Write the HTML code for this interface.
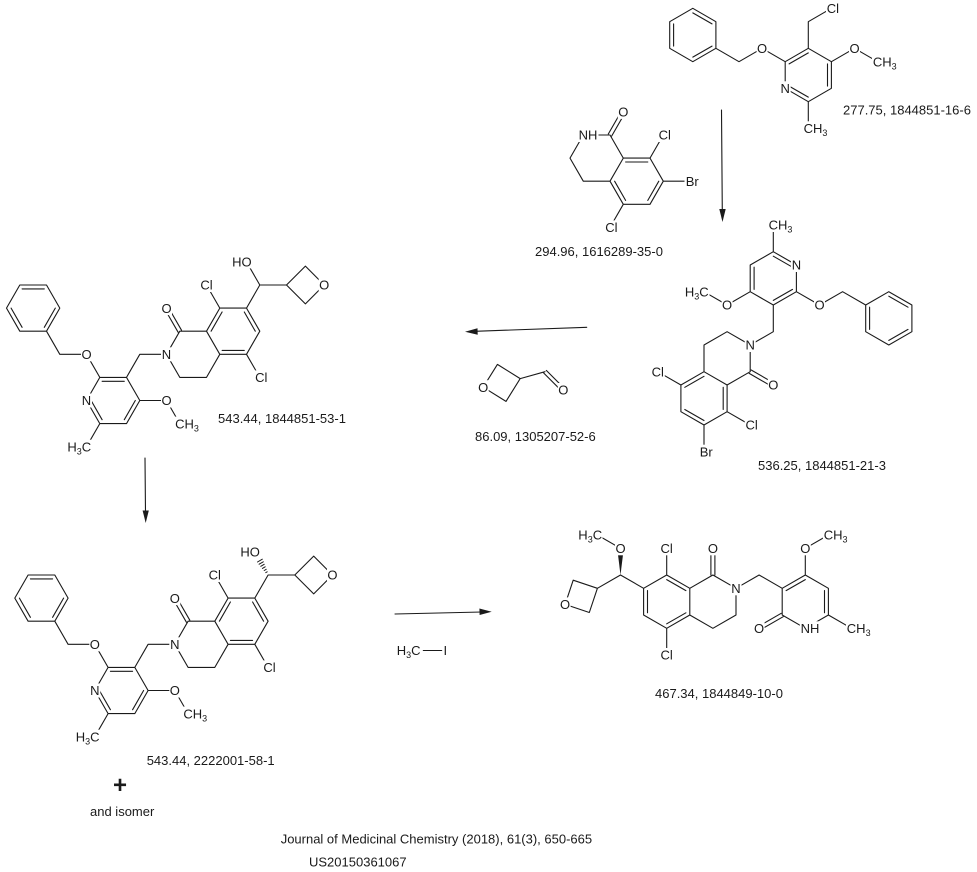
<!DOCTYPE html>
<html><head><meta charset="utf-8"><style>
html,body{margin:0;padding:0;background:#fff;}
svg{display:block;}
text{font-family:"Liberation Sans",Arial,sans-serif;font-size:13px;fill:#1a1a1a;}
.s{font-size:9px;}
.b{fill:none;stroke:#1a1a1a;stroke-width:1.1;stroke-linecap:round;stroke-linejoin:round;}
.w{fill:#fff;stroke:none;}
</style></head><body>
<svg width="977" height="872" viewBox="0 0 977 872" xmlns="http://www.w3.org/2000/svg">
<rect width="977" height="872" fill="#fff"/>

<!-- Molecule 1 -->
<path class="b" d="M692.8,8.3 L715.9,21.7 L715.9,48.3 L692.8,61.7 L669.7,48.3 L669.7,21.7 Z
M692.8,12.9 L712,23.9 M712,46.1 L692.8,57.1 M673.6,46.1 L673.6,23.9
M808.3,48.3 L831.4,61.7 L831.4,88.3 L808.3,101.7 L785.2,88.3 L785.2,61.7 Z
M827.5,63.9 L827.5,86.1 M808.3,97.1 L789.1,86.1 M789.1,63.9 L808.3,52.9
M808.3,48.3 L808.3,21.7 L831.4,8.3 M831.4,61.7 L854.5,48.3 L877.6,61.7 M808.3,101.7 L808.3,128.3
M785.2,61.7 L762.1,48.3 L739,61.7 L715.9,48.3"/>
<rect class="w" x="826" y="1.3" width="14" height="14"/><text x="826.7" y="13">Cl</text>
<rect class="w" x="849" y="41.3" width="11" height="14"/><text x="854.5" y="53" text-anchor="middle">O</text>
<rect class="w" x="872" y="54.7" width="25" height="14"/><text x="872.9" y="66.4">CH<tspan class="s" dy="3">3</tspan></text>
<rect class="w" x="779.7" y="81.3" width="11" height="14"/><text x="785.2" y="93" text-anchor="middle">N</text>
<rect class="w" x="802.8" y="121.3" width="25" height="14"/><text x="803.6" y="133">CH<tspan class="s" dy="3">3</tspan></text>
<rect class="w" x="756.6" y="41.3" width="11" height="14"/><text x="762.1" y="53" text-anchor="middle">O</text>
<text x="843" y="114.7">277.75, 1844851-16-6</text>

<!-- Arrow 1 down -->
<path class="b" d="M721.5,110 L722.3,212"/>
<polygon points="722.5,222 719.3,209 725.7,209" fill="#1a1a1a"/>

<!-- Molecule 2 -->
<path class="b" d="M583.3,135 L610,135 L623.3,158.1 L610,181.2 L583.3,181.2 L570,158.1 Z
M623.3,158.1 L650,158.1 L663.3,181.2 L650,204.3 L623.3,204.3 L610,181.2
M625.6,162 L647.8,162 M658.8,181.2 L647.8,200.4 M625.6,200.4 L614.6,181.2
M611.7,136 L625,112.9 M608.3,134 L621.6,110.9
M650,158.1 L663.3,135 M663.3,181.2 L690,181.2 M623.3,204.3 L610,227.4"/>
<rect class="w" x="577.5" y="128" width="21" height="14"/><text x="578.6" y="139.7">NH</text>
<rect class="w" x="617.8" y="104.9" width="11" height="14"/><text x="623.3" y="116.6" text-anchor="middle">O</text>
<rect class="w" x="657.8" y="128" width="14" height="14"/><text x="658.6" y="139.7">Cl</text>
<rect class="w" x="684.5" y="174.2" width="15" height="14"/><text x="685.7" y="185.9">Br</text>
<rect class="w" x="604.5" y="220.4" width="14" height="14"/><text x="605.3" y="232.1">Cl</text>
<text x="535" y="256">294.96, 1616289-35-0</text>

<!-- Molecule 3 -->
<path class="b" d="M773.3,251.7 L796.4,265 L796.4,291.7 L773.3,305 L750.2,291.7 L750.2,265 Z
M773.3,256.2 L792.5,267.2 M792.5,289.4 L773.3,300.4 M754.1,289.4 L754.1,267.2
M773.3,251.7 L773.3,225 M750.2,291.7 L727.1,305 L704,291.7 M773.3,305 L773.3,331.7 L750.2,345
M796.4,291.7 L819.5,305 L842.6,291.7 L865.7,305
M888.8,291.7 L911.9,305 L911.9,331.7 L888.8,345 L865.7,331.7 L865.7,305 Z
M888.8,296.2 L908,307.2 M908,329.4 L888.8,340.4 M869.6,329.4 L869.6,307.2
M750.2,345 L750.2,371.7 L727.1,385 L704,371.7 L704,345 L727.1,331.7 Z
M727.1,385 L727.1,411.7 L704,425 L680.9,411.7 L680.9,385 L704,371.7
M684.8,387.3 L704,376.3 M723.2,387.3 L723.2,409.5 M704,420.5 L684.8,409.5
M749.2,373.4 L772.3,386.7 M751.2,370 L774.3,383.3
M680.9,385 L657.8,371.7 M727.1,411.7 L750.2,425 M704,425 L704,451.7"/>
<rect class="w" x="767.8" y="218" width="25" height="14"/><text x="768.6" y="229.7">CH<tspan class="s" dy="3">3</tspan></text>
<rect class="w" x="790.9" y="258" width="11" height="14"/><text x="796.4" y="269.7" text-anchor="middle">N</text>
<rect class="w" x="721.6" y="298" width="11" height="14"/><text x="727.1" y="309.7" text-anchor="middle">O</text>
<rect class="w" x="683.5" y="284.7" width="26" height="14"/><text x="708.7" y="296.4" text-anchor="end">H<tspan class="s" dy="3">3</tspan><tspan dy="-3">C</tspan></text>
<rect class="w" x="814" y="298" width="11" height="14"/><text x="819.5" y="309.7" text-anchor="middle">O</text>
<rect class="w" x="744.7" y="338" width="11" height="14"/><text x="750.2" y="349.7" text-anchor="middle">N</text>
<rect class="w" x="767.8" y="378" width="11" height="14"/><text x="773.3" y="389.7" text-anchor="middle">O</text>
<rect class="w" x="650.8" y="364.7" width="14" height="14"/><text x="657.8" y="376.4" text-anchor="middle">Cl</text>
<rect class="w" x="744.7" y="418" width="14" height="14"/><text x="745.5" y="429.7">Cl</text>
<rect class="w" x="698.5" y="444.7" width="15" height="14"/><text x="699.7" y="456.4">Br</text>
<text x="758" y="470">536.25, 1844851-21-3</text>

<!-- Arrow 2 left -->
<path class="b" d="M586.7,327.3 L475,331.3"/>
<polygon points="465,331.7 477.5,328.2 477.7,334.8" fill="#1a1a1a"/>

<!-- Reagent oxetane-3-carbaldehyde -->
<path class="b" d="M483.2,387.2 L497.4,364.4 L520.2,378.6 L506,401.4 Z M520.2,378.6 L545,371.7
M543.7,373 L562,391.3 M546.3,370.4 L564.6,388.7"/>
<rect class="w" x="477.7" y="380.2" width="11" height="14"/><text x="483.2" y="391.9" text-anchor="middle">O</text>
<rect class="w" x="557.8" y="383" width="11" height="14"/><text x="563.3" y="394.7" text-anchor="middle">O</text>
<text x="475" y="441">86.09, 1305207-52-6</text>

<!-- Molecule 4 -->
<g id="m4">
<path class="b" d="M59.8,308.1 L46.5,285 L19.8,285 L6.5,308.1 L19.8,331.2 L46.5,331.2 Z
M22.1,288.9 L44.3,288.9 M55.3,308.1 L44.3,327.3 M22.1,327.3 L11.1,308.1
M46.5,331.2 L59.8,354.3 L86.5,354.3 L99.8,377.4
M86.5,400.5 L99.8,377.4 L126.5,377.4 L139.8,400.5 L126.5,423.6 L99.8,423.6 Z
M102.1,381.3 L124.3,381.3 M135.3,400.5 L124.3,419.7 M102.1,419.7 L91.1,400.5
M99.8,423.6 L86.5,446.7 M139.8,400.5 L166.5,400.5 L179.8,423.6 M126.5,377.4 L139.8,354.3 L166.5,354.3
M166.5,354.3 L179.8,331.2 L206.5,331.2 L219.8,354.3 L206.5,377.4 L179.8,377.4 Z
M181.5,330.2 L168.2,307.1 M178.1,332.2 L164.8,309.1
M206.5,331.2 L219.8,308.1 L246.5,308.1 L259.8,331.2 L246.5,354.3 L219.8,354.3
M211.1,331.2 L222.1,312 M244.3,312 L255.3,331.2 M244.3,350.4 L222.1,350.4
M219.8,308.1 L206.5,285 M246.5,354.3 L259.8,377.4 M246.5,308.1 L259.8,285 L286.5,285
M259.8,285 L246.5,261.9
M286.5,285 L305.4,266.1 L324.2,285 L305.4,303.9 Z"/>
<rect class="w" x="81" y="347.3" width="11" height="14"/><text x="86.5" y="359" text-anchor="middle">O</text>
<rect class="w" x="81" y="393.5" width="11" height="14"/><text x="86.5" y="405.2" text-anchor="middle">N</text>
<rect class="w" x="66" y="439.7" width="26" height="14"/><text x="91.2" y="451.4" text-anchor="end">H<tspan class="s" dy="3">3</tspan><tspan dy="-3">C</tspan></text>
<rect class="w" x="161" y="393.5" width="11" height="14"/><text x="166.5" y="405.2" text-anchor="middle">O</text>
<rect class="w" x="174.3" y="416.6" width="25" height="14"/><text x="175.1" y="428.3">CH<tspan class="s" dy="3">3</tspan></text>
<rect class="w" x="161" y="347.3" width="11" height="14"/><text x="166.5" y="359" text-anchor="middle">N</text>
<rect class="w" x="161" y="301.1" width="11" height="14"/><text x="166.5" y="312.8" text-anchor="middle">O</text>
<rect class="w" x="199.5" y="278" width="14" height="14"/><text x="206.5" y="289.7" text-anchor="middle">Cl</text>
<rect class="w" x="254.3" y="370.4" width="14" height="14"/><text x="255.1" y="382.1">Cl</text>
<rect class="w" x="231" y="255.4" width="21" height="13"/><text x="251.6" y="266.6" text-anchor="end">HO</text>
<rect class="w" x="318.7" y="278" width="11" height="14"/><text x="324.2" y="289.7" text-anchor="middle">O</text>
</g>
<text x="218" y="423">543.44, 1844851-53-1</text>

<!-- Arrow 4 down (left) -->
<path class="b" d="M145,458 L145.5,513"/>
<polygon points="145.7,523 142.6,510.5 148.8,510.5" fill="#1a1a1a"/>

<!-- Molecule 5 (translated copy, hashed OH) -->
<g transform="translate(8.3,290)">
<path class="b" d="M59.8,308.1 L46.5,285 L19.8,285 L6.5,308.1 L19.8,331.2 L46.5,331.2 Z
M22.1,288.9 L44.3,288.9 M55.3,308.1 L44.3,327.3 M22.1,327.3 L11.1,308.1
M46.5,331.2 L59.8,354.3 L86.5,354.3 L99.8,377.4
M86.5,400.5 L99.8,377.4 L126.5,377.4 L139.8,400.5 L126.5,423.6 L99.8,423.6 Z
M102.1,381.3 L124.3,381.3 M135.3,400.5 L124.3,419.7 M102.1,419.7 L91.1,400.5
M99.8,423.6 L86.5,446.7 M139.8,400.5 L166.5,400.5 L179.8,423.6 M126.5,377.4 L139.8,354.3 L166.5,354.3
M166.5,354.3 L179.8,331.2 L206.5,331.2 L219.8,354.3 L206.5,377.4 L179.8,377.4 Z
M181.5,330.2 L168.2,307.1 M178.1,332.2 L164.8,309.1
M206.5,331.2 L219.8,308.1 L246.5,308.1 L259.8,331.2 L246.5,354.3 L219.8,354.3
M211.1,331.2 L222.1,312 M244.3,312 L255.3,331.2 M244.3,350.4 L222.1,350.4
M219.8,308.1 L206.5,285 M246.5,354.3 L259.8,377.4 M246.5,308.1 L259.8,285 L286.5,285
M286.5,285 L305.4,266.1 L324.2,285 L305.4,303.9 Z"/>
<path class="b" style="stroke-width:1" d="M257.5,282.6 L258.9,281.8 M255.9,280.5 L257.9,279.3 M254.1,278.4 L256.9,276.8 M252.5,276.3 L255.9,274.3 M250.8,274.2 L255,271.8 M249.2,272 L254,269.2"/>
<rect class="w" x="81" y="347.3" width="11" height="14"/><text x="86.5" y="359" text-anchor="middle">O</text>
<rect class="w" x="81" y="393.5" width="11" height="14"/><text x="86.5" y="405.2" text-anchor="middle">N</text>
<rect class="w" x="66" y="439.7" width="26" height="14"/><text x="91.2" y="451.4" text-anchor="end">H<tspan class="s" dy="3">3</tspan><tspan dy="-3">C</tspan></text>
<rect class="w" x="161" y="393.5" width="11" height="14"/><text x="166.5" y="405.2" text-anchor="middle">O</text>
<rect class="w" x="174.3" y="416.6" width="25" height="14"/><text x="175.1" y="428.3">CH<tspan class="s" dy="3">3</tspan></text>
<rect class="w" x="161" y="347.3" width="11" height="14"/><text x="166.5" y="359" text-anchor="middle">N</text>
<rect class="w" x="161" y="301.1" width="11" height="14"/><text x="166.5" y="312.8" text-anchor="middle">O</text>
<rect class="w" x="199.5" y="278" width="14" height="14"/><text x="206.5" y="289.7" text-anchor="middle">Cl</text>
<rect class="w" x="254.3" y="370.4" width="14" height="14"/><text x="255.1" y="382.1">Cl</text>
<rect class="w" x="231" y="255.4" width="21" height="12"/><text x="251.6" y="266.6" text-anchor="end">HO</text>
<rect class="w" x="318.7" y="278" width="11" height="14"/><text x="324.2" y="289.7" text-anchor="middle">O</text>
</g>
<text x="146.7" y="765">543.44, 2222001-58-1</text>
<text x="120" y="793" text-anchor="middle" style="font-size:24px;font-weight:bold">+</text>
<text x="90" y="816">and isomer</text>

<!-- Arrow 3 right -->
<path class="b" d="M395,614 L482,612"/>
<polygon points="491.7,611.7 479.4,608.5 479.6,615" fill="#1a1a1a"/>
<path class="b" d="M423.3,650.5 L441.7,650.5"/>
<text x="396.7" y="655">H<tspan class="s" dy="3">3</tspan><tspan dy="-3">C</tspan></text>
<text x="443.5" y="655">I</text>

<!-- Molecule 6 -->
<path class="b" d="M666.7,575 L689.8,588.3 L689.8,615 L666.7,628.3 L643.6,615 L643.6,588.3 Z
M666.7,579.6 L685.9,590.6 M685.9,612.8 L666.7,623.8 M647.5,612.8 L647.5,590.6
M689.8,588.3 L712.9,575 L736,588.3 L736,615 L712.9,628.3 L689.8,615
M710.9,575 L710.9,549 M714.9,575 L714.9,549
M666.7,575 L666.7,548.3 M666.7,628.3 L666.7,655 M643.6,588.3 L620.5,575 L597.4,588.3 M620.5,548.3 L597.4,535
M597.4,588.3 L573.2,580.2 L565.1,604.4 L589.3,612.5 Z
M736,588.3 L759.1,575 L782.2,588.3
M805.3,575 L828.4,588.3 L828.4,615 L805.3,628.3 L782.2,615 L782.2,588.3 Z
M786.1,590.6 L805.3,579.6 M824.5,590.6 L824.5,612.8
M783.2,616.7 L760.1,630 M781.2,613.3 L758.1,626.6
M805.3,575 L805.3,548.3 L828.4,535 M828.4,615 L851.5,628.3"/>
<polygon points="620.5,575 617.8,553 623.2,553" fill="#1a1a1a"/>
<rect class="w" x="576.5" y="528" width="26" height="14"/><text x="602.1" y="539.7" text-anchor="end">H<tspan class="s" dy="3">3</tspan><tspan dy="-3">C</tspan></text>
<rect class="w" x="615" y="541.3" width="11" height="14"/><text x="620.5" y="553" text-anchor="middle">O</text>
<rect class="w" x="659.7" y="541.3" width="14" height="14"/><text x="666.7" y="553" text-anchor="middle">Cl</text>
<rect class="w" x="707.4" y="541.3" width="11" height="14"/><text x="712.9" y="553" text-anchor="middle">O</text>
<rect class="w" x="659.7" y="648" width="14" height="14"/><text x="666.7" y="659.7" text-anchor="middle">Cl</text>
<rect class="w" x="730.5" y="581.3" width="11" height="14"/><text x="736" y="593" text-anchor="middle">N</text>
<rect class="w" x="559.6" y="597.4" width="11" height="14"/><text x="565.1" y="609.1" text-anchor="middle">O</text>
<rect class="w" x="799.8" y="541.3" width="11" height="14"/><text x="805.3" y="553" text-anchor="middle">O</text>
<rect class="w" x="822.9" y="528" width="25" height="14"/><text x="823.7" y="539.7">CH<tspan class="s" dy="3">3</tspan></text>
<rect class="w" x="799.8" y="621.3" width="21" height="14"/><text x="800.6" y="633">NH</text>
<rect class="w" x="753.6" y="621.3" width="11" height="14"/><text x="759.1" y="633" text-anchor="middle">O</text>
<rect class="w" x="846" y="621.3" width="25" height="14"/><text x="846.8" y="633">CH<tspan class="s" dy="3">3</tspan></text>
<text x="655" y="698">467.34, 1844849-10-0</text>

<!-- Footer -->
<text x="280.7" y="843.4">Journal of Medicinal Chemistry (2018), 61(3), 650-665</text>
<text x="309" y="866.7">US20150361067</text>
</svg>
</body></html>
